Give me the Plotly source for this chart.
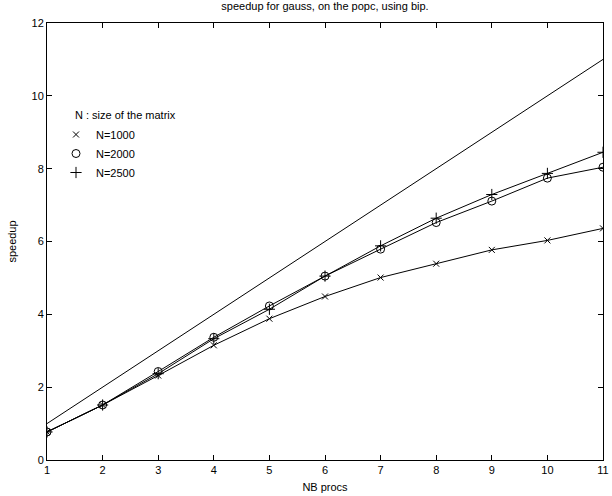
import plotly.graph_objects as go

procs = [1, 2, 3, 4, 5, 6, 7, 8, 9, 10, 11]
ideal = [1, 2, 3, 4, 5, 6, 7, 8, 9, 10, 11]
n1000 = [0.77, 1.51, 2.32, 3.15, 3.88, 4.49, 5.01, 5.39, 5.77, 6.03, 6.36]
n2000 = [0.77, 1.51, 2.43, 3.37, 4.23, 5.05, 5.79, 6.52, 7.11, 7.74, 8.04]
n2500 = [0.77, 1.51, 2.37, 3.33, 4.14, 5.05, 5.88, 6.64, 7.29, 7.87, 8.45]
series_names = ["N=1000", "N=2000", "N=2500"]
x_ticks = [1, 2, 3, 4, 5, 6, 7, 8, 9, 10, 11]
y_ticks = [0, 2, 4, 6, 8, 10, 12]

FONT = "Liberation Sans, Arial, Helvetica, sans-serif"
BLACK = "#000000"

W, H = 612, 496
ML, MR, MT, MB = 47, 9, 23, 36
PW, PH = W - ML - MR, H - MT - MB

fig = go.Figure()

fig.add_trace(go.Scatter(
    x=procs, y=ideal, mode="lines",
    line=dict(color=BLACK, width=1), showlegend=False, hoverinfo="skip"))

styles = [
    dict(symbol="x-thin-open", size=6),
    dict(symbol="circle-open", size=8),
    dict(symbol="cross-thin-open", size=8),
]
for name, ys, st in zip(series_names, [n1000, n2000, n2500], styles):
    fig.add_trace(go.Scatter(
        x=procs, y=ys, mode="lines+markers", name=name,
        line=dict(color=BLACK, width=1),
        marker=dict(symbol=st["symbol"], size=st["size"], color=BLACK,
                    line=dict(color=BLACK, width=1)),
        showlegend=False))
    # legend entry: marker only
    fig.add_trace(go.Scatter(
        x=[None], y=[None], mode="markers", name=name,
        marker=dict(symbol=st["symbol"], size=st["size"], color=BLACK,
                    line=dict(color=BLACK, width=1)),
        showlegend=True))

axis_common = dict(
    showline=True, linecolor=BLACK, linewidth=1, mirror="ticks",
    ticks="inside", ticklen=5, tickcolor=BLACK, tickwidth=1,
    showgrid=False, zeroline=False, automargin=False,
    tickfont=dict(family=FONT, size=11, color=BLACK),
)

fig.update_layout(
    width=W, height=H,
    margin=dict(l=ML, r=MR, t=MT, b=MB, autoexpand=False),
    paper_bgcolor="white", plot_bgcolor="white",
    font=dict(family=FONT, size=11, color=BLACK),
    title=dict(text="speedup for gauss, on the popc, using bip.",
               x=0.5, xanchor="center", xref="paper",
               y=1 - 2.5 / H, yanchor="top", yref="container",
               pad=dict(t=0, b=0, l=0, r=0),
               font=dict(family=FONT, size=11, color=BLACK)),
    xaxis=dict(range=[1, 11], tickvals=x_ticks,
               title=dict(text="NB procs", standoff=8,
                          font=dict(family=FONT, size=11, color=BLACK)),
               **axis_common),
    yaxis=dict(range=[0, 12], tickvals=y_ticks,
               title=dict(text="speedup", standoff=12,
                          font=dict(family=FONT, size=11, color=BLACK)),
               **axis_common),
    legend=dict(x=(56 - ML) / PW, y=1 - (120 - MT) / PH,
                xanchor="left", yanchor="top",
                bgcolor="rgba(0,0,0,0)", borderwidth=0,
                font=dict(family=FONT, size=11, color=BLACK),
                itemwidth=30, tracegroupgap=0),
    annotations=[dict(
        text="N : size of the matrix", showarrow=False,
        xref="paper", yref="paper",
        x=(73 - ML) / PW, y=1 - (115 - MT) / PH,
        xanchor="left", yanchor="middle",
        font=dict(family=FONT, size=11, color=BLACK))],
)

fig.write_html("out.html",
               config={"displayModeBar": False},
               post_script="document.body.style.margin='0';")
